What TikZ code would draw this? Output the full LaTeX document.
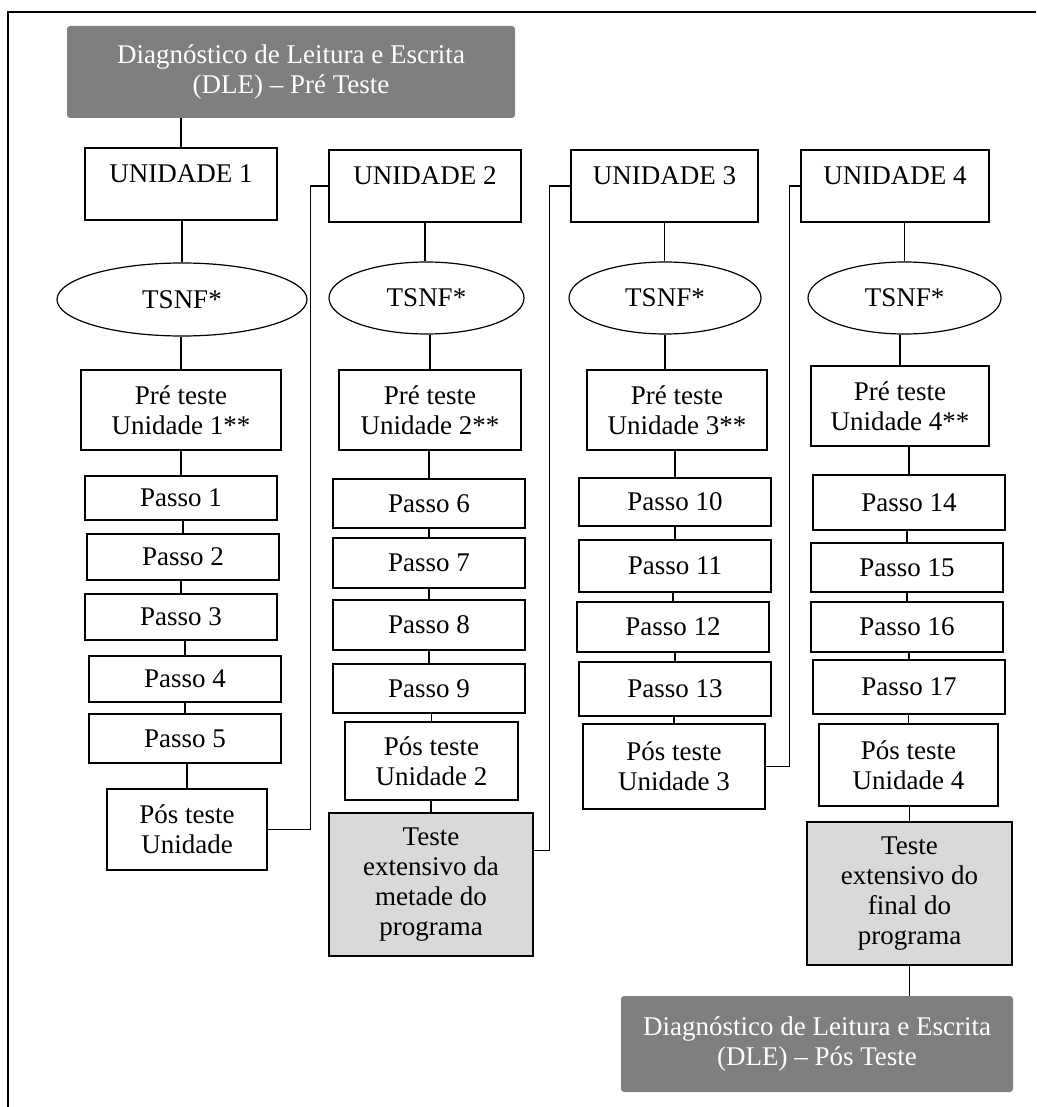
\documentclass[tikz,border=0pt]{standalone}
\usepackage{fontspec}
\setmainfont{Liberation Serif}
\usetikzlibrary{shapes.geometric,calc}
\definecolor{dgray}{HTML}{7F7F7F}
\definecolor{lgray}{HTML}{D9D9D9}
\newcommand\vup[2]{\draw[link] (#2.north) -- (#2.north |- #1.south);}
\newcommand\vdown[2]{\draw[link] (#1.south) -- (#1.south |- #2.north);}
\begin{document}
\begin{tikzpicture}[x=1pt,y=-1pt,
  every node/.style={font=\fontsize{27}{30}\selectfont, align=center, inner sep=0pt},
  box/.style={draw, line width=1.3pt, rectangle},
  unit/.style={box, minimum width=#1, minimum height=72pt, text height=28pt, text depth=30pt},
  oval/.style={draw, ellipse, line width=1.2pt},
  dle/.style={fill=dgray, rounded corners=3pt, text=white},
  ext/.style={box, fill=lgray},
  link/.style={line width=1.6pt}]
\useasboundingbox (0,0) rectangle (1036,1107);
\fill[white] (0,0) rectangle (1036,1107);
\draw[line width=1.7pt] (8,1107) -- (8,12) -- (1036,12);

% top / bottom diagnostics
\node[dle, minimum width=448pt, minimum height=92pt] (dlea) at (291,72) {Diagnóstico de Leitura e Escrita\\(DLE) – Pré Teste};
\node[dle, minimum width=392pt, minimum height=96pt] (dleb) at (817,1044) {Diagnóstico de Leitura e Escrita\\(DLE) – Pós Teste};

% units
\node[unit=192pt] (u1) at (181,184) {UNIDADE 1};
\node[unit=192pt] (u2) at (425,186) {UNIDADE 2};
\node[unit=187pt] (u3) at (664.5,186) {UNIDADE 3};
\node[unit=188pt] (u4) at (895,186) {UNIDADE 4};

% TSNF
\node[oval, minimum width=250pt, minimum height=73pt] (t1) at (182,299.5) {TSNF*};
\node[oval, minimum width=195pt, minimum height=72pt] (t2) at (426.5,298) {TSNF*};
\node[oval, minimum width=192pt, minimum height=72pt] (t3) at (665,298) {TSNF*};
\node[oval, minimum width=193pt, minimum height=72pt] (t4) at (904.5,298) {TSNF*};

% pre tests
\node[box, minimum width=200pt, minimum height=80pt] (p1) at (181,410) {Pré teste\\Unidade 1**};
\node[box, minimum width=182pt, minimum height=80pt] (p2) at (430,410) {Pré teste\\Unidade 2**};
\node[box, minimum width=180pt, minimum height=80pt] (p3) at (677,410) {Pré teste\\Unidade 3**};
\node[box, minimum width=178pt, minimum height=80pt] (p4) at (900,406) {Pré teste\\Unidade 4**};

% column 1
\node[box, minimum width=192pt, minimum height=44pt] (s1) at (181,498) {Passo 1};
\node[box, minimum width=192pt, minimum height=46pt] (s2) at (183,557) {Passo 2};
\node[box, minimum width=192pt, minimum height=46pt] (s3) at (181,617) {Passo 3};
\node[box, minimum width=192pt, minimum height=46pt] (s4) at (185,679) {Passo 4};
\node[box, minimum width=192pt, minimum height=49pt] (s5) at (185,738.5) {Passo 5};
\node[box, minimum width=160pt, minimum height=81pt] (q1) at (187,829.5) {Pós teste\\Unidade};

% column 2
\node[box, minimum width=192pt, minimum height=49pt] (s6) at (429,503.5) {Passo 6};
\node[box, minimum width=192pt, minimum height=50pt] (s7) at (429,563) {Passo 7};
\node[box, minimum width=192pt, minimum height=50pt] (s8) at (429,625) {Passo 8};
\node[box, minimum width=192pt, minimum height=49pt] (s9) at (429,688.5) {Passo 9};
\node[box, minimum width=173pt, minimum height=78pt] (q2) at (431.5,761) {Pós teste\\Unidade 2};
\node[ext, minimum width=204pt, minimum height=143pt] (xa) at (431,884.5) {Teste\\extensivo da\\metade do\\programa};

% column 3
\node[box, minimum width=192pt, minimum height=48pt] (s10) at (675,502) {Passo 10};
\node[box, minimum width=192pt, minimum height=52pt] (s11) at (675,566) {Passo 11};
\node[box, minimum width=192pt, minimum height=50pt] (s12) at (673,627) {Passo 12};
\node[box, minimum width=192pt, minimum height=54pt] (s13) at (675,689) {Passo 13};
\node[box, minimum width=182pt, minimum height=85pt] (q3) at (674,766.5) {Pós teste\\Unidade 3};

% column 4
\node[box, minimum width=192pt, minimum height=55pt] (s14) at (909,502.5) {Passo 14};
\node[box, minimum width=192pt, minimum height=49pt] (s15) at (907,567.5) {Passo 15};
\node[box, minimum width=192pt, minimum height=50pt] (s16) at (907,627) {Passo 16};
\node[box, minimum width=192pt, minimum height=54pt] (s17) at (909,687) {Passo 17};
\node[box, minimum width=179pt, minimum height=82pt] (q4) at (908.5,765) {Pós teste\\Unidade 4};
\node[ext, minimum width=205pt, minimum height=143pt] (xb) at (909.5,893.5) {Teste\\extensivo do\\final do\\programa};

% vertical links
\vup{dlea}{u1}
\vup{u1}{t1} \vup{t1}{p1} \vup{p1}{s1} \vup{s1}{s2} \vup{s2}{s3} \vup{s3}{s4} \vup{s4}{s5} \vup{s5}{q1}
\vdown{u2}{t2} \vup{t2}{p2} \vup{p2}{s6} \vup{s6}{s7} \vup{s7}{s8} \vup{s8}{s9} \vup{s9}{q2} \vup{q2}{xa}
\vdown{u3}{t3} \vdown{t3}{p3} \vup{p3}{s10} \vup{s10}{s11} \vup{s11}{s12} \vup{s12}{s13} \vup{s13}{q3}
\vup{u4}{t4} \vup{t4}{p4} \vup{p4}{s14} \vup{s14}{s15} \vup{s15}{s16} \vup{s16}{s17} \vup{s17}{q4} \vup{q4}{xb}
\vdown{xb}{dleb}

% elbow links to next unit
\draw[link] (q1.east) -- ++(43,0) |- (u2.west);
\draw[link] ($(xa.north east)+(0,38)$) -- ++(16,0) |- (u3.west);
\draw[link] (q3.east) -- ++(24,0) |- (u4.west);
\end{tikzpicture}
\end{document}
